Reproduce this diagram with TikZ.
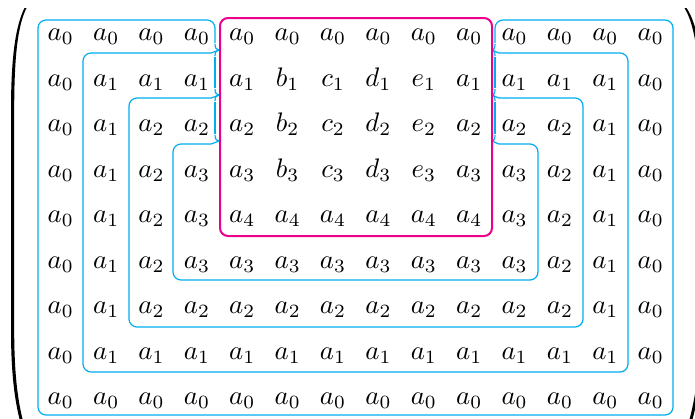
\documentclass[tikz,border=0pt]{standalone}
\definecolor{cyanl}{HTML}{00AEEF}
\definecolor{magl}{HTML}{EC008C}
\begin{document}
\begin{tikzpicture}[x=1pt,y=-1pt,
  cell/.style={anchor=base,inner sep=0pt,scale=2.68},
  cy/.style={draw=cyanl,line width=1.2pt},
  mg/.style={draw=magl,line width=2pt,rounded corners=8pt},
  paren/.style={fill=black,draw=none}]
\useasboundingbox (0,0) rectangle (695,418);
\clip (0,0) rectangle (695,418);
% entries
\foreach \r [count=\i] in {
 {a_0,a_0,a_0,a_0,a_0,a_0,a_0,a_0,a_0,a_0,a_0,a_0,a_0,a_0},
 {a_0,a_1,a_1,a_1,a_1,b_1,c_1,d_1,e_1,a_1,a_1,a_1,a_1,a_0},
 {a_0,a_1,a_2,a_2,a_2,b_2,c_2,d_2,e_2,a_2,a_2,a_2,a_1,a_0},
 {a_0,a_1,a_2,a_3,a_3,b_3,c_3,d_3,e_3,a_3,a_3,a_2,a_1,a_0},
 {a_0,a_1,a_2,a_3,a_4,a_4,a_4,a_4,a_4,a_4,a_3,a_2,a_1,a_0},
 {a_0,a_1,a_2,a_3,a_3,a_3,a_3,a_3,a_3,a_3,a_3,a_2,a_1,a_0},
 {a_0,a_1,a_2,a_2,a_2,a_2,a_2,a_2,a_2,a_2,a_2,a_2,a_1,a_0},
 {a_0,a_1,a_1,a_1,a_1,a_1,a_1,a_1,a_1,a_1,a_1,a_1,a_1,a_0},
 {a_0,a_0,a_0,a_0,a_0,a_0,a_0,a_0,a_0,a_0,a_0,a_0,a_0,a_0}}{
  \foreach \e [count=\j] in \r {
    \node[cell] (c\i-\j) at ({60.8+45.38*(\j-1)},{40.7+45.5*(\i-1)}) {$\e$};
  }
}
% cyan level outlines
\draw[cy,rounded corners=8pt] (215,43) -- (215,20) -- (38,20) -- (38,415) -- (673,415) -- (673,20) -- (495,20) -- (495,43);
\draw[cy,rounded corners=8pt] (211,53) -- (83,53) -- (83,372) -- (628,372) -- (628,53) -- (499,53);
\draw[cy,rounded corners=8pt] (211,98) -- (129,98) -- (129,327) -- (583,327) -- (583,98) -- (499,98);
\draw[cy,rounded corners=8pt] (211,144) -- (173,144) -- (173,280) -- (538,280) -- (538,144) -- (499,144);
\draw[cy] (215,57) -- (215,88);
\draw[cy] (215,102) -- (215,134);
\draw[cy] (495,57) -- (495,88);
\draw[cy] (495,102) -- (495,134);
% cusps
\foreach \t/\T/\low in {50/53/1,95/98/1,141/144/0}{
  \draw[cy] (215,{\t-6}) .. controls (215,{\t-2}) and (216.5,\t) .. (219,\t)
            .. controls (216.5,\t) and (214,\T) .. (211,\T);
  \draw[cy] (495,{\t-6}) .. controls (495,{\t-2}) and (494,\t) .. (492.5,\t)
            .. controls (494,\t) and (496,\T) .. (499,\T);
  \ifnum\low=1
    \draw[cy] (219,\t) .. controls (216.5,\t) and (215,{\t+2}) .. (215,{\t+6});
    \draw[cy] (492.5,\t) .. controls (494,\t) and (495,{\t+2}) .. (495,{\t+6});
  \fi
}
% magenta block
\draw[mg] (220,18) rectangle (492,236);
% parentheses
\fill[paren] (24.5,8) .. controls (16,25) and (11,55) .. (11,110) -- (11,330)
  .. controls (11,375) and (15,405) .. (22,428) -- (25,428)
  .. controls (18,405) and (14.2,375) .. (14.2,330) -- (14.2,110)
  .. controls (14.2,55) and (18,25) .. (26.5,8) -- cycle;
\fill[paren] (686.5,8) .. controls (696,22) and (703,50) .. (703,110) -- (703,330)
  .. controls (703,375) and (697,405) .. (690,428) -- (687,428)
  .. controls (694,405) and (699.8,375) .. (699.8,330) -- (699.8,110)
  .. controls (699.8,50) and (693,22) .. (684.5,8) -- cycle;
\end{tikzpicture}
\end{document}
